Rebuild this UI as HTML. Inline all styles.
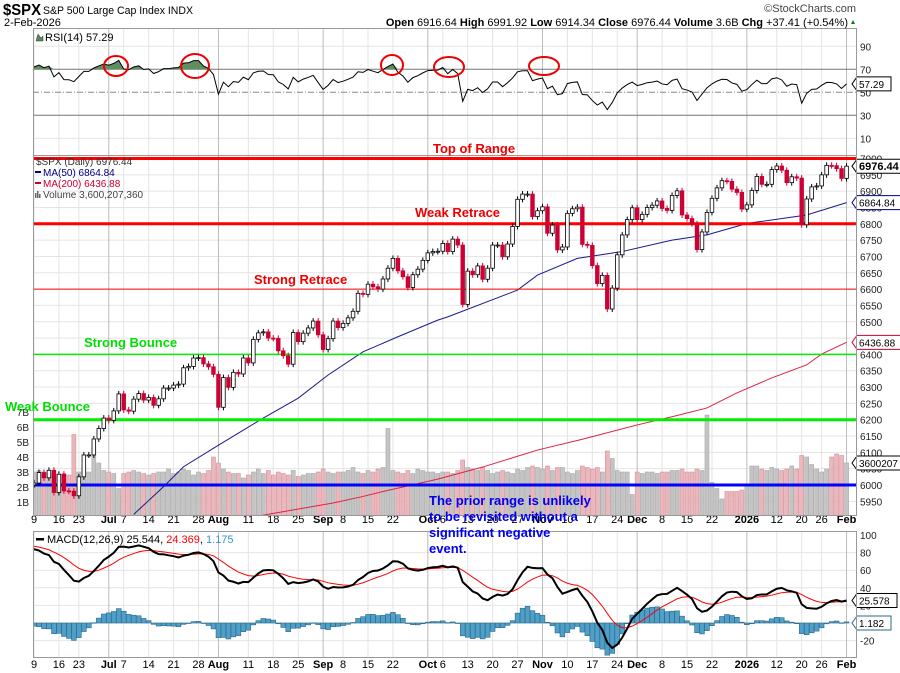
<!DOCTYPE html>
<html><head><meta charset="utf-8"><style>
html,body{margin:0;padding:0;background:#fff;}
svg{display:block;font-family:"Liberation Sans",sans-serif;}
</style></head><body>
<svg id="chart" width="900" height="673" viewBox="0 0 900 673" xmlns="http://www.w3.org/2000/svg">
<defs>
<clipPath id="cpPrice"><rect x="33" y="155" width="823" height="360"/></clipPath>
<clipPath id="cpRsi"><rect x="33" y="28" width="823" height="127"/></clipPath>
<clipPath id="cpMacd"><rect x="33" y="531" width="823" height="126"/></clipPath>
</defs>
<rect x="0" y="0" width="900" height="673" fill="#fff"/>
<g id="grid"></g>
<g id="volG" clip-path="url(#cpPrice)"></g>
<g id="maG" clip-path="url(#cpPrice)"></g>
<g id="levelG" clip-path="url(#cpPrice)"></g>
<g id="candleG" clip-path="url(#cpPrice)"></g>
<g id="rsiG" clip-path="url(#cpRsi)"></g>
<g id="macdG" clip-path="url(#cpMacd)"></g>
<g id="axisG"></g>
<g id="frames" fill="none" stroke="#999" stroke-width="1">
<rect x="33.5" y="28.5" width="823" height="127"/>
<rect x="33.5" y="155.5" width="823" height="360"/>
<rect x="33.5" y="531.5" width="823" height="126"/>
</g>
<g id="annot"></g>
<text x="3" y="15" font-size="16" font-weight="bold" textLength="38" lengthAdjust="spacingAndGlyphs">$SPX</text>
<text x="43" y="14" font-size="11" textLength="150" lengthAdjust="spacingAndGlyphs">S&amp;P 500 Large Cap Index  INDX</text>
<text x="4" y="26" font-size="11">2-Feb-2026</text>
<text x="856" y="12" font-size="11" fill="#444" text-anchor="end">©StockCharts.com</text>
<text x="848" y="26" font-size="11" text-anchor="end"><tspan font-weight="bold">Open</tspan> 6916.64 <tspan font-weight="bold">High</tspan> 6991.92 <tspan font-weight="bold">Low</tspan> 6914.34 <tspan font-weight="bold">Close</tspan> 6976.44 <tspan font-weight="bold">Volume</tspan> 3.6B <tspan font-weight="bold">Chg</tspan> +37.41 (+0.54%)</text>
<polygon points="851,24 855,24 853,20" fill="#008000"/>
<path d="M36,41 L38,34 L41,38 L43,36 L43,41 Z" fill="#5a8a5a" stroke="#333" stroke-width="0.5"/>
<text x="45" y="41" font-size="11">RSI(14) 57.29</text>
<text x="36" y="165" font-size="10" fill="#333">$SPX (Daily) 6976.44</text>
<rect x="35" y="171" width="6" height="2" fill="#000080"/>
<text x="43" y="176" font-size="10" fill="#000080">MA(50) 6864.84</text>
<rect x="35" y="182" width="6" height="2" fill="#cc0033"/>
<text x="43" y="187" font-size="10" fill="#cc0033">MA(200) 6436.88</text>
<rect x="35" y="193" width="1.5" height="5" fill="#666"/><rect x="37" y="191" width="1.5" height="7" fill="#666"/><rect x="39" y="194" width="1.5" height="4" fill="#666"/>
<text x="43" y="198" font-size="10" fill="#444">Volume 3,600,207,360</text>
<rect x="36" y="538" width="8" height="2.5" fill="#000"/>
<text x="47" y="543" font-size="11">MACD(12,26,9) 25.544, <tspan fill="#ff0000">24.369</tspan>, <tspan fill="#3399cc">1.175</tspan></text>
</svg>
<script>
const preCloses=[5660,5844,5886,5892,5917,5958,5964,5940,5845,5842,5803,5922,5889,5912,5912,5936,5970,5971,5939,6000];
const closes=[6006,6038,6022,6045,5977,6033,5982,5981,5967,6025,6092,6092,6141,6173,6205,6198,6227,6279,
6230,6226,6263,6280,6260,6268,6244,6264,6297,6297,6306,6309,6359,6363,6389,6390,6371,6362,6339,6238,
6329,6299,6345,6340,6389,6374,6446,6466,6469,6450,6449,6411,6396,6370,6467,6439,6465,6481,6502,6460,
6415,6448,6502,6482,6495,6512,6532,6587,6584,6615,6607,6600,6631,6664,6694,6656,6638,6605,6644,6661,6688,6711,6715,6716,
6740,6715,6753,6735,6553,6655,6644,6671,6630,6664,6735,6735,6699,6738,6792,6875,6891,6891,6822,6840,
6852,6771,6796,6720,6729,6832,6846,6851,6737,6734,6672,6617,6642,6539,6603,6705,6766,6813,6849,
6813,6829,6850,6857,6870,6847,6841,6887,6901,6827,6816,6800,6721,6775,6835,6878,6910,6932,6930,6906,6896,6845,6858,
6902,6945,6921,6921,6966,6977,6964,6926,6944,6940,6797,6876,6913,6916,6950,6979,6978,6969,6939,6976.44];
const volumes=[3.0,3.1,3.0,3.0,2.9,2.8,2.9,2.8,5.5,3.0,3.3,3.0,4.7,3.6,3.1,3.0,2.9,1.9,
2.9,3.0,3.1,3.0,2.9,2.8,2.9,3.0,3.0,3.2,2.9,3.0,3.2,3.1,2.8,3.0,2.9,3.1,4.0,3.6,
3.2,3.0,2.9,2.9,2.6,2.8,3.0,3.2,2.9,3.1,2.8,3.0,2.9,2.8,3.1,2.7,2.8,2.9,2.9,3.0,
3.2,3.0,2.9,3.0,3.0,3.1,3.3,3.0,2.9,3.1,3.0,3.2,3.3,5.9,3.1,3.0,2.9,3.1,2.9,3.2,3.1,3.0,3.0,2.9,
3.0,3.0,2.9,3.1,3.8,3.3,3.2,3.1,3.3,3.1,2.9,3.0,3.1,3.0,2.9,3.2,3.1,3.3,3.4,3.3,
3.2,3.4,3.1,3.3,3.3,3.0,2.9,3.1,3.4,3.3,3.2,3.3,3.0,4.4,3.9,3.1,3.0,3.0,1.5,
3.0,2.9,3.0,3.0,2.9,3.0,3.0,3.1,3.1,3.2,3.0,3.0,3.2,3.1,6.8,2.3,1.9,1.2,1.7,1.7,1.7,1.8,2.2,
3.4,3.4,3.2,3.1,3.3,3.2,3.1,3.2,3.4,3.2,4.1,4.0,3.5,3.2,3.0,3.2,4.0,4.2,4.1,3.6];
const ma50Idx=[20,26,30,37,46,53,59,66,73,81,83,97,101,109,118,128,135,143,155,163];
const ma50Val=[5910,5995,6056,6122,6205,6266,6337,6408,6454,6505,6515,6597,6643,6694,6715,6750,6766,6801,6827,6864.84];
const ma200Idx=[40,45,60,66,70,81,90,101,110,121,128,135,141,148,155,158,163];
const ma200Val=[5893,5905,5945,5965,5980,6018,6055,6107,6140,6184,6209,6236,6282,6328,6368,6401,6436.88];
const macdSeed=[5975,5887,88];
const levels=[7000,6800,6600,6400,6200,6000];
const levelColors=['#ff0000','#ff0000','#ff0000','#00ee00','#00ee00','#0000ff'];
const levelWidths=[3,3,1,1.5,3,3];
const tickIdx=[0,5,9,15,18,23,28,33,37,43,48,53,58,62,67,72,79,82,87,92,97,102,107,112,117,121,126,131,136,143,149,154,158,163];
const tickLbl=['9','16','23','Jul','7','14','21','28','Aug','11','18','25','Sep','8','15','22','Oct','6','13','20','27','Nov','10','17','24','Dec','8','15','22','2026','12','20','26','Feb'];
const priceTicks=[7000,6950,6900,6850,6800,6750,6700,6650,6600,6550,6500,6450,6400,6350,6300,6250,6200,6150,6100,6050,6000,5950];
const volTicks=[1,2,3,4,5,6,7];
const rsiTicks=[90,70,50,30,10];
const macdTicks=[100,80,60,40,20,-20];

const NS='http://www.w3.org/2000/svg';
const xOf=i=>34+i*4.985;
const yP=v=>158.5+(7000-v)*0.3265;
const yV=b=>517-b*15;
const yR=v=>69.3+(70-v)*1.15;
const yM=v=>623-v*0.88;
function mk(tag,attrs,parent){const e=document.createElementNS(NS,tag);for(const k in attrs)e.setAttribute(k,attrs[k]);parent.appendChild(e);return e;}
const G=id=>document.getElementById(id);
const grid=G('grid'),axis=G('axisG');

priceTicks.forEach(v=>{mk('line',{x1:33,x2:856,y1:yP(v),y2:yP(v),stroke:'#e4e4e4','stroke-width':1},grid);});
[90,10].forEach(v=>{mk('line',{x1:33,x2:856,y1:yR(v),y2:yR(v),stroke:'#e4e4e4'},grid);});
[80,60,40,20,0,-20].forEach(v=>{mk('line',{x1:33,x2:856,y1:yM(v),y2:yM(v),stroke:'#e4e4e4'},grid);});
tickIdx.forEach((t,k)=>{const bold=isNaN(+tickLbl[k])||tickLbl[k]==='2026';const c=bold?'#bbb':'#e4e4e4';
 [[28,155],[155,515],[531,657]].forEach(r=>mk('line',{x1:xOf(t),x2:xOf(t),y1:r[0],y2:r[1],stroke:c},grid));
 [523,668].forEach(yy=>{const tx=mk('text',{x:xOf(t),y:yy,'font-size':11,'text-anchor':'middle','font-weight':bold?'bold':'normal'},axis);tx.textContent=tickLbl[k];
 
 });
});

volumes.forEach((b,i)=>{const prev=i?closes[i-1]:preCloses[preCloses.length-1];const down=closes[i]<prev;
 const r=mk('rect',{x:xOf(i)-2,y:yV(b),width:4,height:517-yV(b),fill:down?'#e9b8bd':'#c4c4c4',stroke:down?'#d9909a':'#a8a8a8','stroke-width':0.6},G('volG'));
 
 });

const ma50=mk('polyline',{points:ma50Idx.map((t,k)=>xOf(t)+','+yP(ma50Val[k])).join(' '),fill:'none',stroke:'#1a1a8c','stroke-width':1},G('maG'));


const ma200=mk('polyline',{points:ma200Idx.map((t,k)=>xOf(t)+','+yP(ma200Val[k])).join(' '),fill:'none',stroke:'#dd2244','stroke-width':1},G('maG'));



levels.forEach((v,k)=>{const l=mk('line',{x1:33,x2:856,y1:yP(v),y2:yP(v),stroke:levelColors[k],'stroke-width':levelWidths[k]},G('levelG'));
 
 });

closes.forEach((c,i)=>{const o=i?closes[i-1]:preCloses[preCloses.length-1];const up=c>=o;
 const top=yP(Math.max(o,c)),bot=yP(Math.min(o,c));const x=xOf(i);
 const g=mk('g',{},G('candleG'));
 
 
 mk('line',{x1:x,x2:x,y1:top-3,y2:bot+3,stroke:up?'#000':'#cc0033','stroke-width':1},g);
 mk('rect',{x:x-1.8,y:top,width:3.6,height:Math.max(1,bot-top),fill:up?'#fff':'#cc0033',stroke:up?'#000':'#cc0033','stroke-width':0.8},g);
});

const all=preCloses.concat(closes);let ag=0,al=0;const rsi=[];
for(let j=1;j<all.length;j++){const d=all[j]-all[j-1];const gg=Math.max(d,0),ll=Math.max(-d,0);
 if(j<=14){ag+=gg/14;al+=ll/14;}else{ag=(ag*13+gg)/14;al=(al*13+ll)/14;}
 if(j>=all.length-closes.length)rsi.push(al===0?100:100-100/(1+ag/al));}
const rg=G('rsiG');
mk('line',{x1:33,x2:856,y1:yR(70),y2:yR(70),stroke:'#777'},rg);
mk('line',{x1:33,x2:856,y1:yR(30),y2:yR(30),stroke:'#777'},rg);
mk('line',{x1:33,x2:856,y1:yR(50),y2:yR(50),stroke:'#888','stroke-dasharray':'6,2,1,2'},rg);
const rsiPts=rsi.map((v,i)=>[xOf(i),yR(v)]);
const fillPts=rsi.map((v,i)=>xOf(i)+','+yR(Math.max(v,70)));
const rf=mk('polygon',{points:xOf(0)+','+yR(70)+' '+fillPts.join(' ')+' '+xOf(rsi.length-1)+','+yR(70),fill:'#5f8f5f'},rg);


const rl=mk('polyline',{points:rsiPts.map(p=>p.join(',')).join(' '),fill:'none',stroke:'#000','stroke-width':1},rg);



let e12=macdSeed[0],e26=macdSeed[1],sig=macdSeed[2];const macd=[],sg=[];
closes.forEach(c=>{e12+= (c-e12)*2/13;e26+=(c-e26)*2/27;const m=e12-e26;sig+=(m-sig)*2/10;macd.push(m);sg.push(sig);});
const mg=G('macdG');
macd.forEach((m,i)=>{const h=(m-sg[i])*1.1;const r=mk('rect',{x:xOf(i)-2.4,y:Math.min(yM(0),yM(h)),width:4.8,height:Math.max(0.5,Math.abs(yM(h)-yM(0))),fill:'#4f9fc8',stroke:'#2a6a8a','stroke-width':0.6},mg);
 
 });
const sl=mk('polyline',{points:sg.map((v,i)=>xOf(i)+','+yM(v)).join(' '),fill:'none',stroke:'#ff0000','stroke-width':1},mg);


const ml=mk('polyline',{points:macd.map((v,i)=>xOf(i)+','+yM(v)).join(' '),fill:'none',stroke:'#000','stroke-width':2},mg);



function rlabel(txt,y,name){const t=mk('text',{x:860,y:y+4,'font-size':10,fill:'#222'},axis);t.textContent=txt;
 
 }
priceTicks.forEach(v=>rlabel(String(v),yP(v),'price-tick-label'));
rsiTicks.forEach(v=>rlabel(String(v),yR(v),'rsi-tick-label'));
macdTicks.forEach(v=>rlabel(String(v),yM(v),'macd-tick-label'));
volTicks.forEach(b=>{const t=mk('text',{x:29,y:yV(b)+4,'font-size':10,'text-anchor':'end',fill:'#222'},axis);t.textContent=b+'B';
 
 });
function box(txt,y,col,bold,name){const w=txt.length*6+4;
 mk('polygon',{points:`852,${y} 857,${y-7} ${857+w},${y-7} ${857+w},${y+7} 857,${y+7}`,fill:'#fff',stroke:col,'stroke-width':1},axis);
 const t=mk('text',{x:859,y:y+4,'font-size':bold?11:10,'font-weight':bold?'bold':'normal',fill:'#000'},axis);t.textContent=txt;
 
 }
const lastC=closes[closes.length-1];
box(lastC.toFixed(2),yP(lastC),'#000',true,'last-price-tag');
box(ma50Val[ma50Val.length-1].toFixed(2),yP(ma50Val[ma50Val.length-1]),'#000080',false,'ma50-tag');
box(ma200Val[ma200Val.length-1].toFixed(2),yP(ma200Val[ma200Val.length-1]),'#cc0033',false,'ma200-tag');
box('3600207',yV(volumes[volumes.length-1]),'#000',false,'volume-tag');
box(rsi[rsi.length-1].toFixed(2),yR(rsi[rsi.length-1]),'#000',false,'rsi-tag');
box(macd[macd.length-1].toFixed(3),yM(macd[macd.length-1]),'#000',false,'macd-tag');
box((macd[macd.length-1]-sg[sg.length-1]).toFixed(3),yM(0),'#2a6a8a',false,'macd-hist-tag');

const an=G('annot');
function note(txt,x,y,col,name){const t=mk('text',{x:x,y:y,'font-size':13,'font-weight':'bold',fill:col},an);t.textContent=txt;
 
 }
note('Top of Range',433,153,'#ee0000','top-of-range-label');
note('Weak Retrace',415,217,'#ee0000','weak-retrace-label');
note('Strong Retrace',254,284,'#ee0000','strong-retrace-label');
note('Strong Bounce',84,347,'#00dd00','strong-bounce-label');
note('Weak Bounce',5,411,'#00dd00','weak-bounce-label');
['The prior range is unlikely','to be revisited without a','significant negative','event.'].forEach((s,k)=>note(s,429,505+k*16,'#0000ee','prior-range-note'));
[[116,66,12,10],[195,66,14,12],[392,65,11,10],[449,67,15,10],[544,66,15,9]].forEach(c=>{const e=mk('ellipse',{cx:c[0],cy:c[1],rx:c[2],ry:c[3],fill:'none',stroke:'#ee0000','stroke-width':2},an);
 
 });
</script>
</body></html>
